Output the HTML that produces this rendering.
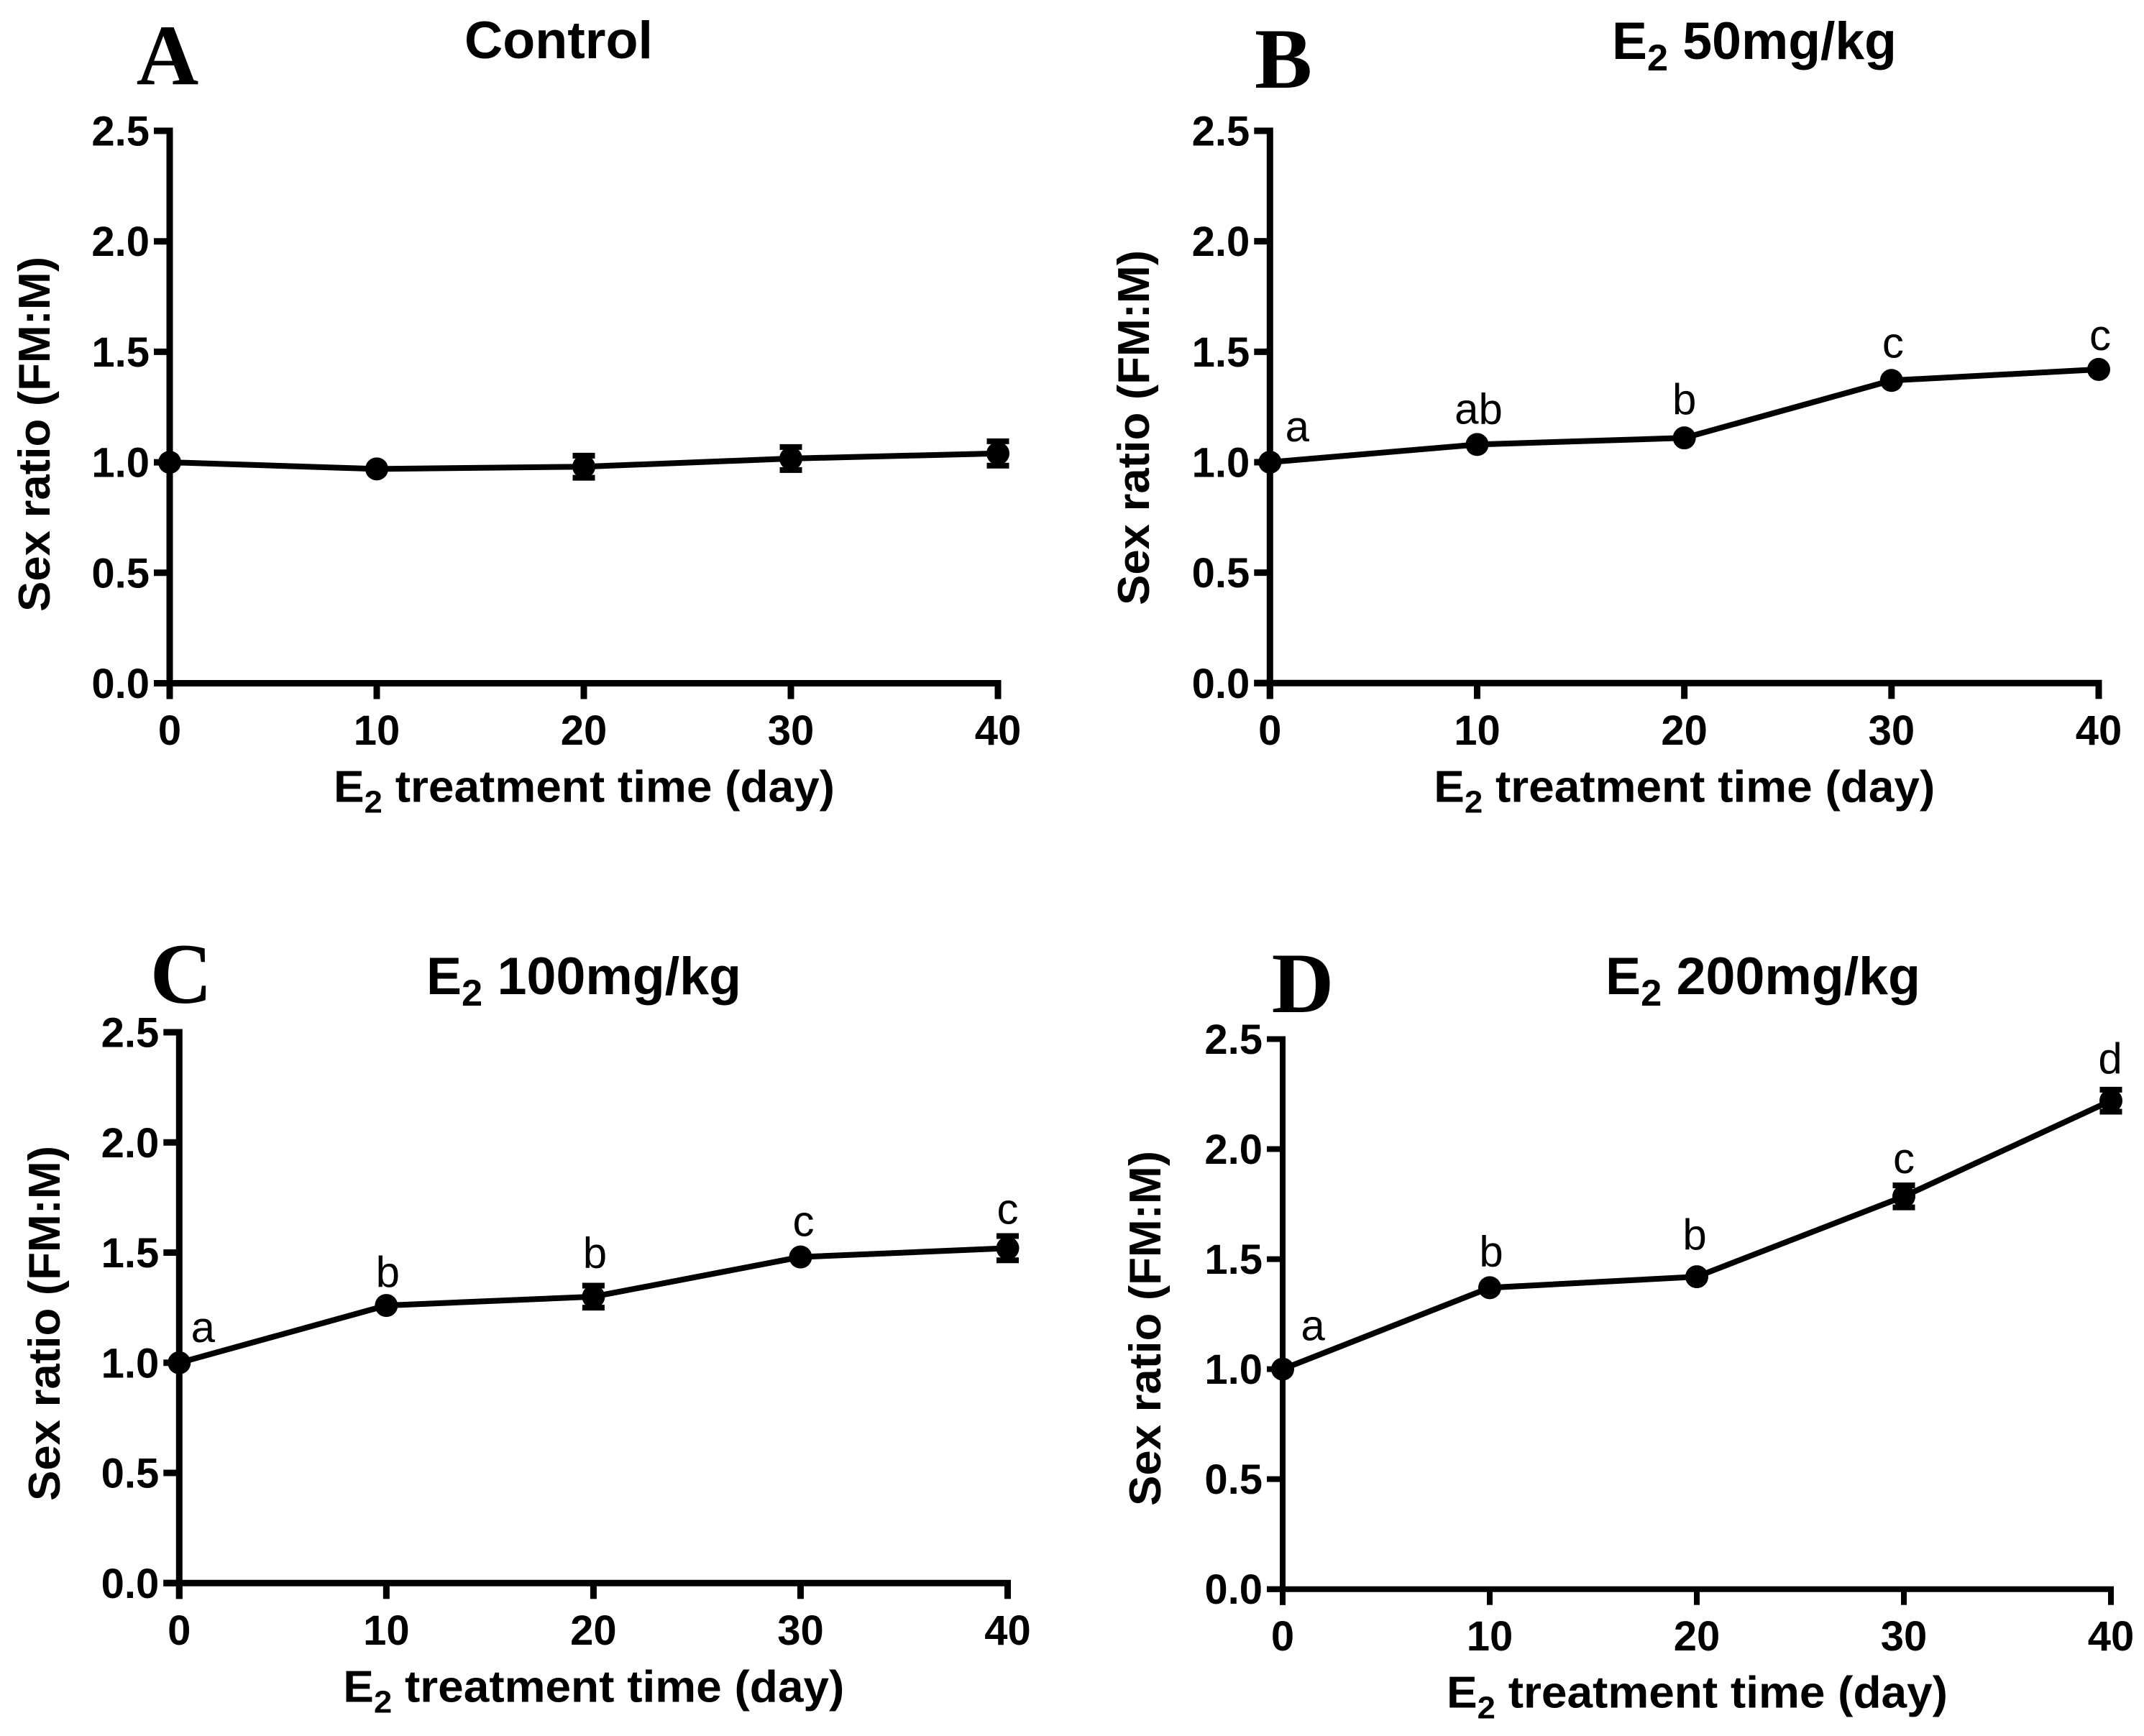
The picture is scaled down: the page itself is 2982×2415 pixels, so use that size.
<!DOCTYPE html>
<html>
<head>
<meta charset="utf-8">
<title>Sex ratio over E2 treatment time</title>
<style>
html,body{margin:0;padding:0;background:#fff}
svg{display:block}
text{font-family:"Liberation Sans",sans-serif;fill:#000}
.b{font-weight:bold}
.letter{font-family:"Liberation Serif",serif;font-weight:bold}
</style>
</head>
<body>
<svg id="figure" xmlns="http://www.w3.org/2000/svg" width="2982" height="2415" viewBox="0 0 2982 2415"></svg>
<script>
const days = [0, 10, 20, 30, 40];
const yTicks = [0, 0.5, 1, 1.5, 2, 2.5];
const yTickLabels = ['0.0', '0.5', '1.0', '1.5', '2.0', '2.5'];
const xTickLabels = ['0', '10', '20', '30', '40'];

const controlValues = [1.0, 0.97, 0.98, 1.017, 1.04];
const controlErrors = [0, 0, 0.05, 0.052, 0.055];
const controlLetters = ['', '', '', '', ''];

const e50Values = [1.0, 1.08, 1.11, 1.37, 1.42];
const e50Errors = [0, 0, 0, 0, 0];
const e50Letters = ['a', 'ab', 'b', 'c', 'c'];

const e100Values = [1.0, 1.26, 1.30, 1.48, 1.52];
const e100Errors = [0, 0, 0.05, 0, 0.055];
const e100Letters = ['a', 'b', 'b', 'c', 'c'];

const e200Values = [1.0, 1.37, 1.42, 1.785, 2.22];
const e200Errors = [0, 0, 0, 0.05, 0.05];
const e200Letters = ['a', 'b', 'b', 'c', 'd'];

const svg = document.getElementById('figure');
const NS = 'http://www.w3.org/2000/svg';

function mk(parent, tag, attrs, content) {
  const el = document.createElementNS(NS, tag);
  for (const k in attrs) el.setAttribute(k, attrs[k]);
  if (content !== undefined) el.textContent = content;
  parent.appendChild(el);
  return el;
}

function subText(parent, x, y, size, subSize, dy, pre, post, length) {
  const t = mk(parent, 'text', {x: x, y: y, 'font-size': size, class: 'b', textLength: length, lengthAdjust: 'spacingAndGlyphs'});
  mk(t, 'tspan', {}, pre);
  mk(t, 'tspan', {'font-size': subSize, dy: dy}, '2');
  mk(t, 'tspan', {dy: -dy}, post);
  return t;
}

function drawPanel(p) {
  const g = mk(svg, 'g', {});
  
  
  const sx = d => p.x0 + (d / 40) * (p.x40 - p.x0);
  const sy = v => p.y0 - (v / 2.5) * (p.y0 - p.yTop);
  const w = p.axisWidth;

  const letter = mk(g, 'text', {x: p.letterX, y: p.letterY, 'font-size': 120, class: 'letter', 'text-anchor': 'middle'}, p.letter);
  
  

  let title;
  if (p.titlePost === undefined) {
    title = mk(g, 'text', {x: p.titleX, y: p.titleY, 'font-size': 73, class: 'b', textLength: p.titleLen, lengthAdjust: 'spacingAndGlyphs'}, p.title);
  } else {
    title = subText(g, p.titleX, p.titleY, 73, 52, 16, 'E', p.titlePost, p.titleLen);
  }
  
  

  const yAxis = mk(g, 'g', {stroke: '#000', 'stroke-width': w, fill: 'none'});
  
  
  mk(yAxis, 'line', {x1: p.x0, x2: p.x0, y1: sy(2.5) - w / 2, y2: p.y0 + 22});
  yTicks.forEach(function (v) {
    mk(yAxis, 'line', {x1: p.x0 - 22, x2: p.x0, y1: sy(v), y2: sy(v)});
  });
  const xAxis = mk(g, 'g', {stroke: '#000', 'stroke-width': w, fill: 'none'});
  
  
  mk(xAxis, 'line', {x1: p.x0 - 22, x2: p.x40 + w / 2, y1: p.y0, y2: p.y0});
  days.forEach(function (d) {
    mk(xAxis, 'line', {x1: sx(d), x2: sx(d), y1: p.y0, y2: p.y0 + 22});
  });

  yTicks.forEach(function (v, i) {
    const t = mk(g, 'text', {x: p.x0 - 28, y: sy(v) + 20.5, 'font-size': 58, class: 'b', 'text-anchor': 'end'}, yTickLabels[i]);
    
    
  });
  days.forEach(function (d, i) {
    const t = mk(g, 'text', {x: sx(d), y: p.y0 + 85.5, 'font-size': 58, class: 'b', 'text-anchor': 'middle'}, xTickLabels[i]);
    
    
  });

  const yTitle = mk(g, 'text', {transform: 'translate(' + p.yLabelX + ',' + p.yLabelBottom + ') rotate(-90)', 'font-size': 62, class: 'b', textLength: 494, lengthAdjust: 'spacingAndGlyphs'}, 'Sex ratio (FM:M)');
  
  

  const xTitle = subText(g, p.x0 + 228, p.y0 + 165, 62, 44, 15, 'E', ' treatment time (day)', 697);
  
  

  const pts = days.map(function (d, i) { return sx(d) + ',' + sy(p.values[i]); }).join(' ');
  const line = mk(g, 'polyline', {points: pts, fill: 'none', stroke: '#000', 'stroke-width': 8});
  
  

  days.forEach(function (d, i) {
    const v = p.values[i], e = p.errors[i], cx = sx(d);
    if (e > 0) {
      const bar = mk(g, 'path', {
        d: 'M' + cx + ' ' + sy(v + e) + 'V' + sy(v - e) +
           'M' + (cx - 15.5) + ' ' + sy(v + e) + 'H' + (cx + 15.5) +
           'M' + (cx - 15.5) + ' ' + sy(v - e) + 'H' + (cx + 15.5),
        stroke: '#000', 'stroke-width': 8, fill: 'none'
      });
      
      
    }
    const dot = mk(g, 'circle', {cx: cx, cy: sy(v), r: 16, fill: '#000'});
    
    
    if (p.letters[i]) {
      const lx = cx + (i === 0 ? 40 : 2) + p.letterNudgeX[i];
      const ly = sy(v + e) - 21 + p.letterNudgeY[i];
      const lab = mk(g, 'text', {x: lx, y: ly, 'font-size': 60, 'text-anchor': 'middle'}, p.letters[i]);
      
      
    }
  });
}

drawPanel({id: 'a', letter: 'A', letterX: 233, letterY: 117, title: 'Control', titleX: 646, titleY: 81, titleLen: 262,
  x0: 236, x40: 1388, y0: 950.5, yTop: 182, axisWidth: 9, yLabelX: 69, yLabelBottom: 851,
  values: controlValues, errors: controlErrors, letters: controlLetters,
  letterNudgeX: [0, 0, 0, 0, 0], letterNudgeY: [0, 0, 0, 0, 0]});
drawPanel({id: 'b', letter: 'B', letterX: 1785, letterY: 122, titlePost: ' 50mg/kg', titleX: 2242, titleY: 82, titleLen: 396,
  x0: 1766.3, x40: 2919, y0: 950.3, yTop: 182, axisWidth: 9, yLabelX: 1598, yLabelBottom: 842,
  values: e50Values, errors: e50Errors, letters: e50Letters,
  letterNudgeX: [-2, 0, -2, 0, 0], letterNudgeY: [-8, -8, -12, -11, -6]});
drawPanel({id: 'c', letter: 'C', letterX: 252, letterY: 1395, titlePost: ' 100mg/kg', titleX: 593, titleY: 1383, titleLen: 438,
  x0: 249.3, x40: 1401.5, y0: 2202.3, yTop: 1436, axisWidth: 9, yLabelX: 83, yLabelBottom: 2088,
  values: e100Values, errors: e100Errors, letters: e100Letters,
  letterNudgeX: [-7, 0, 0, 2, -2], letterNudgeY: [-8, -5, -4, -8, 4]});
drawPanel({id: 'd', letter: 'D', letterX: 1812, letterY: 1408, titlePost: ' 200mg/kg', titleX: 2233, titleY: 1383, titleLen: 438,
  x0: 1784, x40: 2936, y0: 2210.7, yTop: 1445.5, axisWidth: 8, yLabelX: 1614, yLabelBottom: 2095,
  values: e200Values, errors: e200Errors, letters: e200Letters,
  letterNudgeX: [2, 0, -5, -2, -3], letterNudgeY: [-19, -9, -17, 4, -2]});
</script>
</body>
</html>
